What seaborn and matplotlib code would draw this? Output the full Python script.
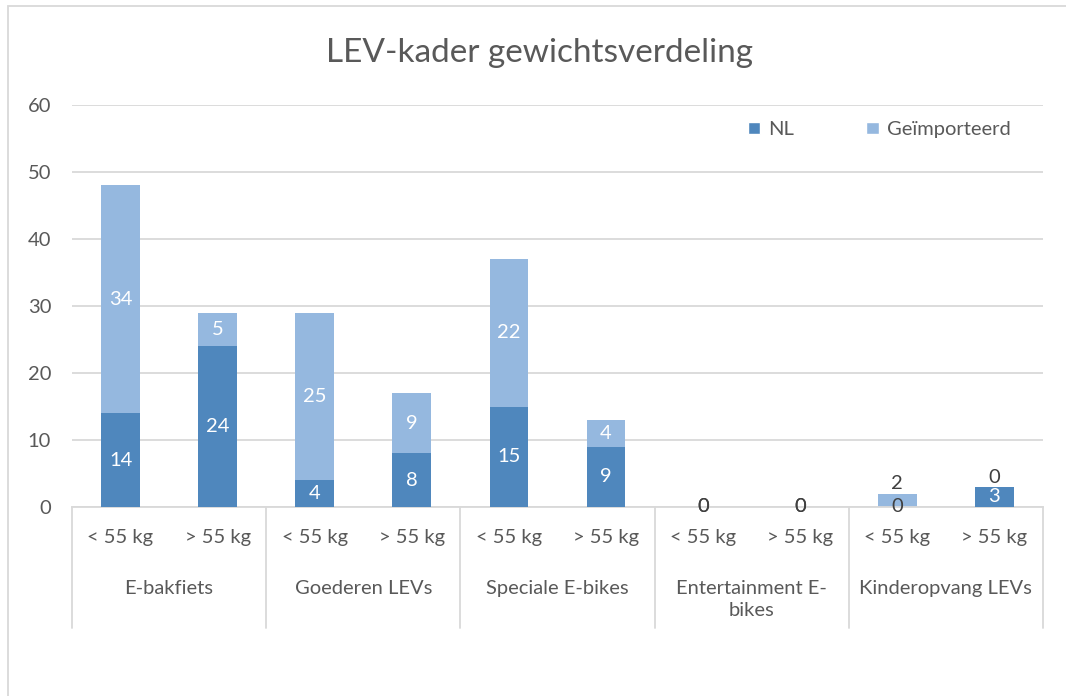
import numpy as np
import pandas as pd
import matplotlib
matplotlib.use("Agg")
import matplotlib.pyplot as plt
from matplotlib.patches import Patch, Rectangle
import seaborn as sns

# ===== Data =====
groups = ["E-bakfiets", "Goederen LEVs", "Speciale E-bikes", "Entertainment E-\nbikes", "Kinderopvang LEVs"]
weight_classes = ["< 55 kg", "> 55 kg"]
nl = [14, 24, 4, 8, 15, 9, 0, 0, 0, 3]
imported = [34, 5, 25, 9, 22, 4, 0, 0, 2, 0]

# ===== Styling =====
sns.set_theme(style="white")
plt.rcParams["font.family"] = ["Lato", "DejaVu Sans"]
text_col = "#595959"
grid_col = "#D9D9D9"
nl_col = "#4F87BD"
imp_col = "#95B8DF"
fs = 14.5

keys = [f"{g}|{w}" for g in groups for w in weight_classes]
df = pd.DataFrame({"key": keys, "nl": nl, "imp": imported})
df["total"] = df["nl"] + df["imp"]

fig = plt.figure(figsize=(10.66, 6.96), dpi=100)
ax = fig.add_axes([72 / 1066, 1 - 507 / 696, (1043 - 72) / 1066, (507 - 105) / 696])

# stacked bars: total first (light), then NL on top (dark)
sns.barplot(data=df, x="key", y="total", order=keys, color=imp_col, saturation=1,
            width=0.4, linewidth=0, ax=ax, zorder=2)
sns.barplot(data=df, x="key", y="nl", order=keys, color=nl_col, saturation=1,
            width=0.4, linewidth=0, ax=ax, zorder=3)

ax.set_ylim(0, 60)
ax.set_xlim(-0.5, len(keys) - 0.5)
ax.set_yticks(range(0, 61, 10))
ax.yaxis.grid(True, color=grid_col, linewidth=1.3, zorder=0)
ax.set_axisbelow(True)
for s in ["top", "right", "left"]:
    ax.spines[s].set_visible(False)
ax.spines["bottom"].set_color(grid_col)
ax.spines["bottom"].set_linewidth(1.3)
ax.tick_params(axis="y", length=0, pad=15, labelsize=fs, labelcolor=text_col)
ax.set_xticks([])
ax.set_xlabel("")
ax.set_ylabel("")

# ===== Data labels =====
for i, row in df.iterrows():
    n, m, tot = row["nl"], row["imp"], row["total"]
    if n > 0:
        ax.text(i, n / 2, str(n), ha="center", va="center", color="white", fontsize=fs, zorder=5)
    else:
        ax.text(i, 0, str(n), ha="center", va="center", color="#404040", fontsize=fs, zorder=5)
    if m >= 3:
        ax.text(i, n + m / 2, str(m), ha="center", va="center", color="white", fontsize=fs, zorder=5)
    elif tot == 0:
        ax.text(i, 0, str(m), ha="center", va="center", color="#404040", fontsize=fs, zorder=5)
    else:
        ax.annotate(str(m), (i, tot), xytext=(0, 1), textcoords="offset points",
                    ha="center", va="bottom", color="#404040", fontsize=fs, zorder=5)

# ===== Multi-level category axis =====
trans = ax.get_xaxis_transform()
ax_h = 507 - 105
for j, w in enumerate(keys):
    ax.text(j, -31 / ax_h, w.split("|")[1], transform=trans, ha="center", va="center",
            fontsize=fs, color=text_col)
for g_idx, g in enumerate(groups):
    ax.text(2 * g_idx + 0.5, -73 / ax_h, g, transform=trans, ha="center", va="top",
            fontsize=fs, color=text_col, linespacing=1.35)
for b in range(len(groups) + 1):
    ax.plot([2 * b - 0.5, 2 * b - 0.5], [0, -121 / ax_h], transform=trans, color=grid_col,
            linewidth=1.3, clip_on=False)

# ===== Legend =====
handles = [Patch(facecolor=nl_col, label="NL"), Patch(facecolor=imp_col, label="Geïmporteerd")]
leg = ax.legend(handles=handles, ncol=2, frameon=False, loc="upper right",
                bbox_to_anchor=(0.985, 1.005), fontsize=fs, handlelength=0.6, handleheight=0.6,
                handletextpad=0.4, columnspacing=3.6)
for t in leg.get_texts():
    t.set_color(text_col)

# ===== Title and chart border =====
fig.text(540 / 1066, 1 - 53 / 696, "LEV-kader gewichtsverdeling", ha="center", va="center",
         fontsize=24, color=text_col)
fig.add_artist(Rectangle((8 / 1066, -0.1), 1.2, 1 - 6 / 696 + 0.1, transform=fig.transFigure,
                         fill=False, edgecolor=grid_col, linewidth=1.3))

fig.savefig("out.png", dpi=100)
